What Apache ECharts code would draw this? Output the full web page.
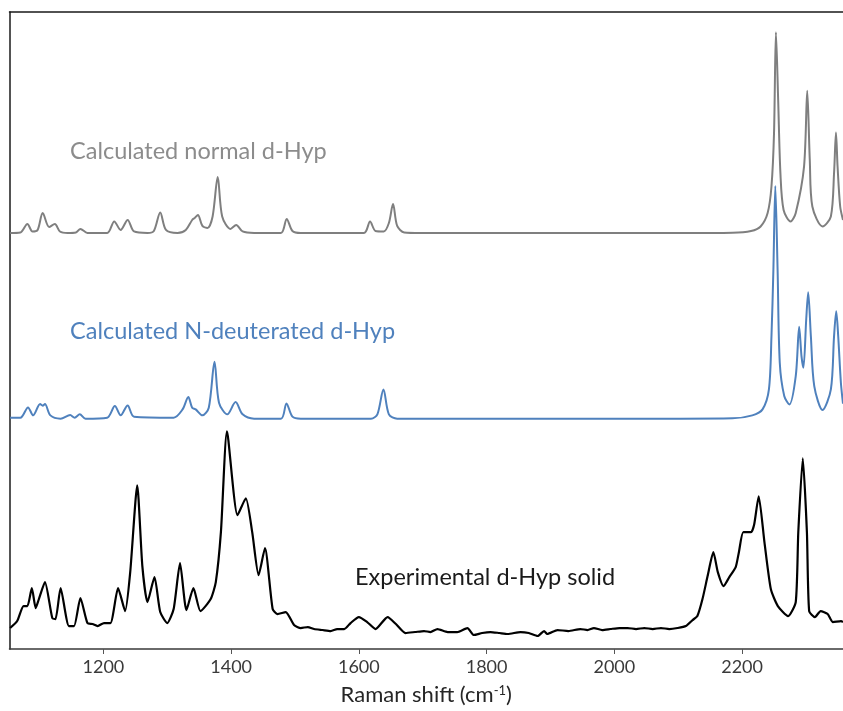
<!DOCTYPE html>
<html>
<head>
<meta charset="utf-8">
<script src="https://cdn.jsdelivr.net/npm/echarts@6/dist/echarts.min.js"></script>
<style>html,body{margin:0;padding:0;background:#fff}#c{width:843px;height:711px}</style>
</head>
<body>
<div id="c"></div>
<script>
// Raman shift (cm-1), intensity (arbitrary units)
const normalCalc = [[1054,0],[1070,0.5],[1081,9],[1089,1.5],[1097,3],[1105,20],[1115,6],[1124,9],[1132,1.5],[1144,0],[1157,0.5],[1164,4],[1175,0],[1206,0],[1217,11.5],[1227,3],[1238,13],[1248,1.5],[1269,0],[1279,2],[1289,20.5],[1298,3],[1316,0],[1329,3],[1339,13],[1343,15],[1348,18],[1355,7],[1363,5],[1371,16.5],[1379,56],[1386,16.5],[1399,4],[1408,8],[1418,1.5],[1436,0],[1478,0],[1487,14],[1496,2],[1509,0],[1608,0],[1617.5,11.5],[1626,2],[1639,1.5],[1647,10],[1653.5,29],[1660,7],[1671,0.5],[1697,0],[2104,0],[2185,0.3],[2214,2],[2229,6.5],[2240,20],[2246,46.5],[2250,100],[2253,201],[2256.5,133],[2260,60],[2265,23],[2276,11.5],[2284,20],[2297,66.5],[2302,142.5],[2306,73],[2310,26.5],[2326,6.5],[2339,16.5],[2344,60],[2347,100.5],[2349.5,66.5],[2353.6,26.5],[2358,13]];

const deutCalc = [[1054,1],[1070,1],[1082,11.3],[1090,3.3],[1101,14.6],[1105,13],[1108.5,14.6],[1117,3.3],[1133,0],[1148,3.6],[1155,1],[1163,4.3],[1172,0],[1206,1],[1218,12.6],[1227,3.3],[1238,13.3],[1248,2],[1310,1],[1324,9.3],[1333,21.6],[1339,11],[1344.5,9.3],[1355,3.3],[1365,11],[1374,57],[1381,16],[1394,4.3],[1407,16.6],[1418,4.3],[1436,0],[1478,0],[1486.6,15.3],[1496,2],[1509,0],[1619,0],[1629,4.3],[1638.5,29.3],[1647,4.3],[1660,0],[2104,0],[2185,0.3],[2216,3.3],[2232,9.3],[2242,29.3],[2246,82.6],[2249,149],[2252,233],[2255.6,149],[2259,56],[2266,22.6],[2274,14.3],[2284,42.6],[2289.4,92],[2293,62.6],[2296,51],[2300.4,99.3],[2303.5,126.6],[2307.7,82.6],[2313,32.6],[2326,8.6],[2339,29.3],[2344,82.6],[2347.4,107.6],[2350.5,82.6],[2354.7,36],[2358,15]];

const experimental = [[1054,25],[1065,32],[1075,47],[1081,47],[1088,65],[1094,45],[1099,54],[1108.5,71],[1120,35],[1125,34],[1133,65],[1146,27],[1154,27],[1164,55],[1175,30],[1183,29],[1191,27],[1201,30],[1211,30],[1223,65],[1234,42],[1242,81],[1253,168],[1261,87],[1269,51],[1280,76],[1289,41],[1300,30],[1310,44],[1320,90],[1330,43],[1341,65],[1352,42],[1368,54],[1376,71],[1384,121],[1393.5,222],[1410,138],[1423,155],[1433,121],[1443,78],[1453,105],[1465,44],[1472.5,39],[1485.5,41],[1498.5,28],[1509,25],[1520,26],[1530,24],[1543,23],[1556,22],[1566,24],[1577,24],[1587,30],[1600,36],[1613,31],[1626,24],[1645,36],[1658,29],[1673,20],[1688,21],[1702,22],[1712,21],[1723,24],[1739,21],[1754,21],[1770,25],[1780,18],[1793,20],[1806,21],[1820,20],[1833,19],[1853,21],[1866,20],[1880,17],[1890,22],[1895,19],[1911,23],[1928,22],[1947,24],[1958,23],[1968,25],[1981,23],[1994,24],[2008,25],[2021,25],[2034,24],[2047,25],[2060,24],[2073,25],[2086,24],[2099,25],[2112,27],[2122.5,33],[2130,37],[2138,54],[2146,77],[2155,101],[2162,81],[2171,67],[2180,76],[2190,86],[2195,101],[2202,121],[2214,121],[2219,129],[2226,157],[2235,111],[2245,64],[2256,47],[2272,37],[2284,51],[2288,121],[2295,195],[2301.5,121],[2305,42],[2314,36],[2323,42],[2334,39],[2342,31],[2355,32],[2358,31]];

const xTickValues = [1200, 1400, 1600, 1800, 2000, 2200];
const seriesNames = ['Calculated normal d-Hyp', 'Calculated N-deuterated d-Hyp', 'Experimental d-Hyp solid'];

// vertical stacking offsets for display
const offsets = [420.7, 234.7, 0];
function shift(arr, off) { return arr.map(p => [p[0], p[1] + off]); }

const chart = echarts.init(document.getElementById('c'));
const FONT = 'Lato';
chart.setOption({
  animation: false,
  grid: { left: 9.5, right: 0, top: 12, bottom: 61 },
  xAxis: [{
    type: 'value', min: 1053, max: 2358, position: 'bottom',
    splitLine: { show: false },
    axisLine: { show: true, lineStyle: { color: '#3a3a3a', width: 1.5 } },
    axisTick: { show: true, customValues: xTickValues, length: 5, lineStyle: { color: '#555' } },
    axisLabel: { customValues: xTickValues, formatter: v => String(v), fontFamily: FONT, fontSize: 18, color: '#3a3a3a', margin: 9 },
    name: 'Raman shift (cm{sup|-1})', nameLocation: 'middle', nameGap: 35,
    nameTextStyle: { fontFamily: FONT, fontSize: 22, color: '#262626',
      rich: { sup: { fontFamily: FONT, fontSize: 13, color: '#262626', verticalAlign: 'top', padding: [0,0,9,0] } } }
  }, {
    type: 'value', min: 1053, max: 2358, position: 'top',
    splitLine: { show: false },
    axisLine: { show: true, onZero: false, lineStyle: { color: '#1a1a1a', width: 1.5 } },
    axisTick: { show: false }, axisLabel: { show: false }
  }],
  yAxis: {
    type: 'value', min: 4, max: 642,
    splitLine: { show: false },
    axisLine: { show: true, onZero: false, lineStyle: { color: '#1a1a1a', width: 1.5 } },
    axisTick: { show: false }, axisLabel: { show: false }
  },
  series: [
    { name: seriesNames[0], type: 'line', data: shift(normalCalc, offsets[0]), showSymbol: false, smooth: 0.3,
      lineStyle: { color: '#7f7f7f', width: 2 }, clip: true },
    { name: seriesNames[1], type: 'line', data: shift(deutCalc, offsets[1]), showSymbol: false, smooth: 0.3,
      lineStyle: { color: '#4f81bd', width: 2 }, clip: true },
    { name: seriesNames[2], type: 'line', data: shift(experimental, offsets[2]), showSymbol: false, smooth: 0.2,
      lineStyle: { color: '#000000', width: 2.2 }, clip: true }
  ],
  graphic: [
    { type: 'text', left: 70, top: 139, style: { text: seriesNames[0], fontFamily: FONT, fontSize: 23.5, fill: '#8c8c8c' } },
    { type: 'text', left: 70, top: 319, style: { text: seriesNames[1], fontFamily: FONT, fontSize: 23.5, fill: '#4f81bd' } },
    { type: 'text', left: 355, top: 565, style: { text: seriesNames[2], fontFamily: FONT, fontSize: 23.5, fill: '#1a1a1a' } }
  ]
});
</script>
</body>
</html>
